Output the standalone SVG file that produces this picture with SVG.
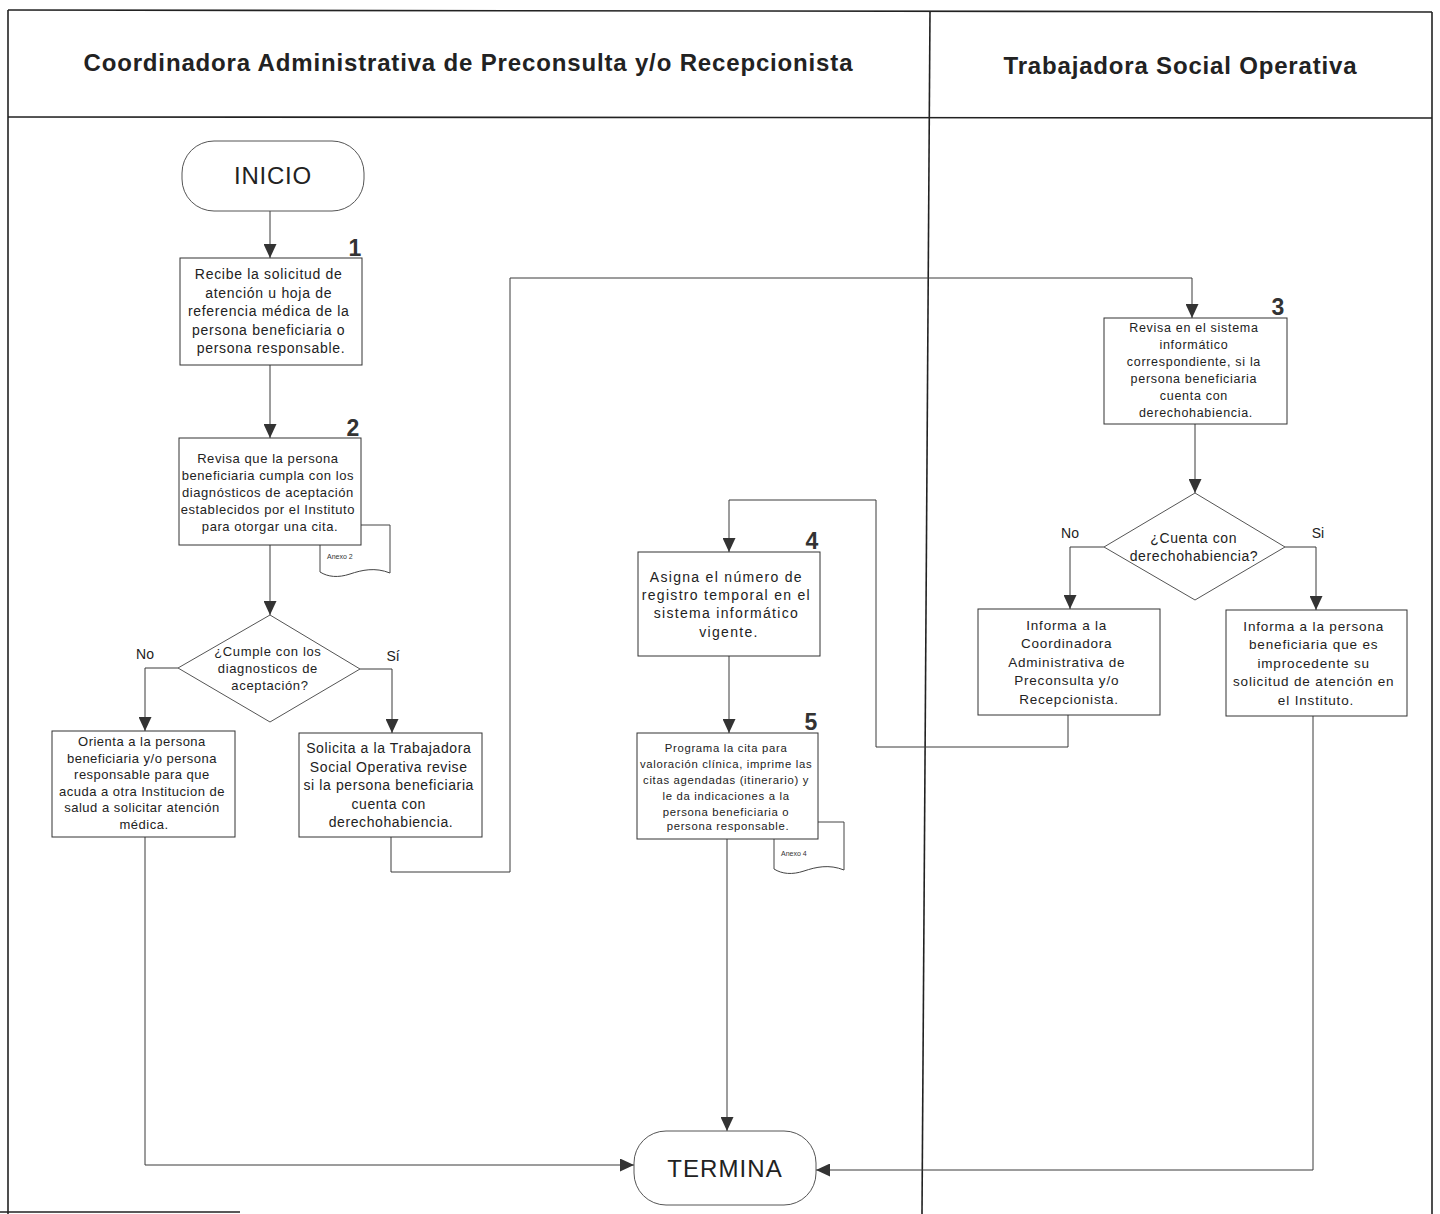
<svg xmlns="http://www.w3.org/2000/svg" width="1440" height="1214" viewBox="0 0 1440 1214">
  <style>
    .frame { fill: none; stroke: #222; stroke-width: 1.6; }
    .box { fill: #fff; stroke: #333; stroke-width: 1; }
    .term { fill: #fff; stroke: #555; stroke-width: 1; }
    .doc { fill: #fff; stroke: #444; stroke-width: 1; }
    .edge { fill: none; stroke: #3a3a3a; stroke-width: 1; }
    .t { font-family: "Liberation Sans", Arial, sans-serif; fill: #222; text-anchor: middle; }
    .hdr { font-family: "Liberation Sans", Arial, sans-serif; font-weight: bold; font-size: 24px; fill: #222; text-anchor: middle; }
    .num { font-family: "Liberation Sans", Arial, sans-serif; font-weight: bold; font-size: 23px; fill: #333; text-anchor: middle; }
    .lbl { font-family: "Liberation Sans", Arial, sans-serif; font-size: 14px; fill: #222; text-anchor: middle; }
    .anx { font-family: "Liberation Sans", Arial, sans-serif; font-size: 7px; fill: #333; }
  </style>
  <defs>
    <marker id="arrow" viewBox="0 0 14 13" refX="14" refY="6.5" markerWidth="14" markerHeight="13" markerUnits="userSpaceOnUse" orient="auto">
      <path d="M0,0 L14,6.5 L0,13 Z" fill="#333"/>
    </marker>
  </defs>

  <rect width="1440" height="1214" fill="#fff"/>

  <!-- swimlane frame -->
  <g id="lanes">
    <line class="frame" x1="8" y1="10" x2="1432" y2="12"/>
    <line class="frame" x1="8" y1="117" x2="1432" y2="118"/>
    <line class="frame" x1="8" y1="10" x2="8" y2="1214"/>
    <line class="frame" x1="1432" y1="12" x2="1432" y2="1214"/>
    <line class="frame" x1="930" y1="11" x2="922" y2="1214"/>
    <line class="frame" x1="0" y1="1212" x2="240" y2="1212"/>
    <text class="hdr" x="468" y="71" textLength="769" lengthAdjust="spacing">Coordinadora Administrativa de Preconsulta y/o Recepcionista</text>
    <text class="hdr" x="1180" y="74" textLength="353" lengthAdjust="spacing">Trabajadora Social Operativa</text>
  </g>

  <!-- connectors -->
  <g id="connectors">
    <path class="edge" d="M270,211 V258" marker-end="url(#arrow)"/>
    <path class="edge" d="M270,365 V438" marker-end="url(#arrow)"/>
    <path class="edge" d="M270,545 V615" marker-end="url(#arrow)"/>
    <path class="edge" d="M178,668 H145 V731" marker-end="url(#arrow)"/>
    <path class="edge" d="M360,669 H392 V733" marker-end="url(#arrow)"/>
    <path class="edge" d="M391,837 V872 H510 V278 H1192 V318" marker-end="url(#arrow)"/>
    <path class="edge" d="M1195,424 V493" marker-end="url(#arrow)"/>
    <path class="edge" d="M1104,547 H1070 V609" marker-end="url(#arrow)"/>
    <path class="edge" d="M1285,547 H1316 V610" marker-end="url(#arrow)"/>
    <path class="edge" d="M1068,715 V747 H876 V500 H729 V552" marker-end="url(#arrow)"/>
    <path class="edge" d="M729,656 V733" marker-end="url(#arrow)"/>
    <path class="edge" d="M727,839 V1131" marker-end="url(#arrow)"/>
    <path class="edge" d="M145,837 V1165 H634" marker-end="url(#arrow)"/>
    <path class="edge" d="M1313,716 V1170 H816" marker-end="url(#arrow)"/>
  </g>

  <!-- start -->
  <g id="inicio">
    <rect class="term" x="182" y="141" width="182" height="70" rx="32" ry="32"/>
    <text class="t" x="273" y="184" font-size="24" letter-spacing="0.8">INICIO</text>
  </g>

  <!-- step 1 -->
  <g id="step1">
    <rect class="box" x="180" y="258" width="182" height="107"/>
    <text class="num" x="355" y="256">1</text>
    <text class="t" font-size="14" letter-spacing="0.7">
      <tspan x="271" y="279">Recibe la solicitud de</tspan>
      <tspan x="271" y="298">atención u hoja de</tspan>
      <tspan x="271" y="316">referencia médica de la</tspan>
      <tspan x="271" y="335">persona beneficiaria o</tspan>
      <tspan x="271" y="353">persona responsable.</tspan>
    </text>
  </g>

  <!-- step 2 with annex -->
  <g id="step2">
    <path class="doc" d="M361,525 H390 V573 C375,567 362,570 350,574 C338,578 328,577 320,572 V545"/>
    <text class="anx" x="327" y="559">Anexo 2</text>
    <rect class="box" x="179" y="438" width="182" height="107"/>
    <text class="num" x="353" y="436">2</text>
    <text class="t" font-size="13" letter-spacing="0.58">
      <tspan x="270" y="463">Revisa que la persona</tspan>
      <tspan x="270" y="480">beneficiaria cumpla con los</tspan>
      <tspan x="270" y="497">diagnósticos de aceptación</tspan>
      <tspan x="270" y="514">establecidos por el Instituto</tspan>
      <tspan x="270" y="531">para otorgar una cita.</tspan>
    </text>
  </g>

  <!-- decision: diagnosis -->
  <g id="decision1">
    <polygon class="term" points="270,615 360,669 270,722 178,668"/>
    <text class="t" font-size="13" letter-spacing="0.65">
      <tspan x="270" y="656">¿Cumple con los</tspan>
      <tspan x="270" y="673">diagnosticos de</tspan>
      <tspan x="270" y="690">aceptación?</tspan>
    </text>
    <text class="lbl" x="145" y="659">No</text>
    <text class="lbl" x="393" y="661">Sí</text>
  </g>

  <!-- no branch -->
  <g id="orienta">
    <rect class="box" x="52" y="731" width="183" height="106"/>
    <text class="t" font-size="13" letter-spacing="0.5">
      <tspan x="144" y="746">Orienta a la persona</tspan>
      <tspan x="144" y="763">beneficiaria y/o persona</tspan>
      <tspan x="144" y="779">responsable para que</tspan>
      <tspan x="144" y="796">acuda a otra Institucion de</tspan>
      <tspan x="144" y="812">salud a solicitar atención</tspan>
      <tspan x="144" y="829">médica.</tspan>
    </text>
  </g>

  <!-- yes branch -->
  <g id="solicita">
    <rect class="box" x="299" y="733" width="183" height="104"/>
    <text class="t" font-size="14" letter-spacing="0.6">
      <tspan x="391" y="753">Solicita a la Trabajadora</tspan>
      <tspan x="391" y="772">Social Operativa revise</tspan>
      <tspan x="391" y="790">si la persona beneficiaria</tspan>
      <tspan x="391" y="809">cuenta con</tspan>
      <tspan x="391" y="827">derechohabiencia.</tspan>
    </text>
  </g>

  <!-- step 3 -->
  <g id="step3">
    <rect class="box" x="1104" y="318" width="183" height="106"/>
    <text class="num" x="1278" y="315" fill="#3a3550">3</text>
    <text class="t" font-size="12.5" letter-spacing="0.7">
      <tspan x="1196" y="332">Revisa en el sistema</tspan>
      <tspan x="1196" y="349">informático</tspan>
      <tspan x="1196" y="366">correspondiente, si la</tspan>
      <tspan x="1196" y="383">persona beneficiaria</tspan>
      <tspan x="1196" y="400">cuenta con</tspan>
      <tspan x="1196" y="417">derechohabiencia.</tspan>
    </text>
  </g>

  <!-- decision: entitlement -->
  <g id="decision2">
    <polygon class="term" points="1195,493 1285,547 1195,600 1104,547"/>
    <text class="t" font-size="14" letter-spacing="0.6">
      <tspan x="1196" y="543">¿Cuenta con</tspan>
      <tspan x="1194" y="561">derechohabiencia?</tspan>
    </text>
    <text class="lbl" x="1070" y="538">No</text>
    <text class="lbl" x="1318" y="538">Si</text>
  </g>

  <g id="informa-coordinadora">
    <rect class="box" x="978" y="609" width="182" height="106"/>
    <text class="t" font-size="13.5" letter-spacing="0.8">
      <tspan x="1069" y="630">Informa a la</tspan>
      <tspan x="1069" y="648">Coordinadora</tspan>
      <tspan x="1069" y="667">Administrativa de</tspan>
      <tspan x="1069" y="685">Preconsulta y/o</tspan>
      <tspan x="1069" y="704">Recepcionista.</tspan>
    </text>
  </g>

  <g id="informa-persona">
    <rect class="box" x="1226" y="610" width="181" height="106"/>
    <text class="t" font-size="13.5" letter-spacing="0.85">
      <tspan x="1316" y="631">Informa a la persona</tspan>
      <tspan x="1316" y="649">beneficiaria que es</tspan>
      <tspan x="1316" y="668">improcedente su</tspan>
      <tspan x="1316" y="686">solicitud de atención en</tspan>
      <tspan x="1316" y="705">el Instituto.</tspan>
    </text>
  </g>

  <!-- step 4 -->
  <g id="step4">
    <rect class="box" x="638" y="552" width="182" height="104"/>
    <text class="num" x="812" y="549">4</text>
    <text class="t" font-size="14" letter-spacing="1.3">
      <tspan x="729" y="582">Asigna el número de</tspan>
      <tspan x="729" y="600">registro temporal en el</tspan>
      <tspan x="729" y="618">sistema informático</tspan>
      <tspan x="729" y="637">vigente.</tspan>
    </text>
  </g>

  <!-- step 5 with annex -->
  <g id="step5">
    <path class="doc" d="M818,822 H844 V870 C829,864 816,867 804,871 C792,875 782,874 774,869 V839"/>
    <text class="anx" x="781" y="856">Anexo 4</text>
    <rect class="box" x="637" y="733" width="181" height="106"/>
    <text class="num" x="811" y="730">5</text>
    <text class="t" font-size="11.3" letter-spacing="0.7">
      <tspan x="728" y="752">Programa la cita para</tspan>
      <tspan x="728" y="768">valoración clínica, imprime las</tspan>
      <tspan x="728" y="784">citas agendadas (itinerario) y</tspan>
      <tspan x="728" y="800">le da indicaciones a la</tspan>
      <tspan x="728" y="816">persona beneficiaria o</tspan>
      <tspan x="728" y="830">persona responsable.</tspan>
    </text>
  </g>

  <!-- end -->
  <g id="termina">
    <rect class="term" x="634" y="1131" width="182" height="74" rx="32" ry="32"/>
    <text class="t" x="725" y="1177" font-size="24" letter-spacing="1.1">TERMINA</text>
  </g>
</svg>
